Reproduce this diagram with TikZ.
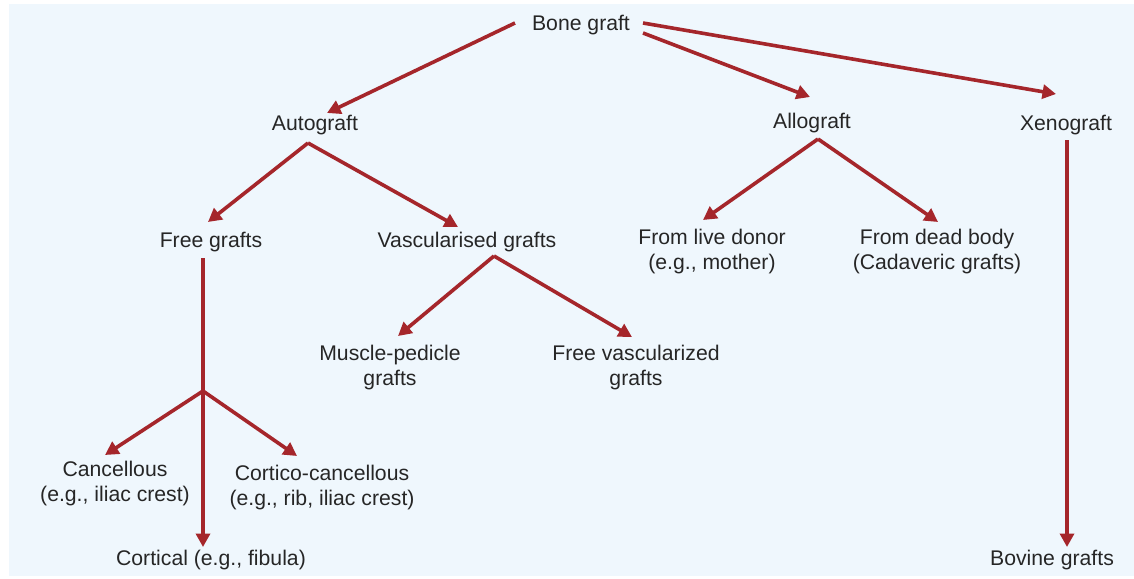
\documentclass[tikz,border=0pt]{standalone}
\usepackage{fontspec}
\setmainfont{Liberation Sans}
\usetikzlibrary{arrows.meta,calc}
\definecolor{bgblue}{HTML}{EFF7FD}
\definecolor{arrred}{HTML}{A5262B}
\definecolor{txtgray}{HTML}{262626}
\begin{document}
\begin{tikzpicture}[x=1pt,y=-1pt,
  lbl/.style={inner sep=0pt,anchor=base,text=txtgray,font=\fontsize{21.2}{25}\selectfont},
  lbl2/.style={inner sep=0pt,anchor=center,align=center,text=txtgray,font=\fontsize{21.2}{25}\selectfont},
  arr/.style={draw=arrred,line width=3.6pt,-{Triangle[length=13.5pt,width=14pt]}}]
\useasboundingbox (0,0) rectangle (1134,578);
\fill[bgblue] (9,4) rectangle (1134,576);
% nodes
\node[lbl] (bone) at (581,31) {Bone graft};
\node[lbl] (auto) at (315,130) {Autograft};
\node[lbl] (allo) at (812,128) {Allograft};
\node[lbl] (xeno) at (1066,130) {Xenograft};
\node[lbl] (free) at (211,247) {Free grafts};
\node[lbl] (vasc) at (467,247) {Vascularised grafts};
\node[lbl2] (live) at (712,252) {From live donor\\(e.g., mother)};
\node[lbl2] (dead) at (937,252) {From dead body\\(Cadaveric grafts)};
\node[lbl2] (muscle) at (390,368) {Muscle-pedicle\\grafts};
\node[lbl2] (fvasc) at (636,368) {Free vascularized\\grafts};
\node[lbl2] (canc) at (115,484) {Cancellous\\(e.g., iliac crest)};
\node[lbl2] (cortico) at (322,488) {Cortico-cancellous\\(e.g., rib, iliac crest)};
\node[lbl] (cortical) at (211,565) {Cortical (e.g., fibula)};
\node[lbl] (bovine) at (1052,565) {Bovine grafts};
% connectors
\draw[arr] ($(bone.base)+(-66,-8)$) -- ($(auto.base)+(12,-17)$);
\draw[arr] ($(bone.base)+(62,2)$) -- ($(allo.base)+(-2,-31)$);
\draw[arr] ($(bone.base)+(62,-8)$) -- ($(xeno.base)+(-10,-36)$);
\draw[arr] ($(xeno.base)+(1,10)$) -- ($(bovine.base)+(15,-18)$);
\draw[arr] ($(auto.base)+(-7,13)$) -- ($(free.base)+(-3,-25)$);
\draw[arr] ($(auto.base)+(-7,13)$) -- ($(vasc.base)+(-9,-20)$);
\draw[arr] ($(allo.base)+(6,11)$) -- ($(live.center)+(-9,-32)$);
\draw[arr] ($(allo.base)+(6,11)$) -- ($(dead.center)+(1,-30)$);
\draw[arr] ($(vasc.base)+(27,9)$) -- ($(muscle.center)+(8,-32)$);
\draw[arr] ($(vasc.base)+(27,9)$) -- ($(fvasc.center)+(-4,-31)$);
\draw[arr] ($(free.base)+(-8,11)$) -- ($(cortical.base)+(-8,-18)$);
\coordinate (split) at (203,391);
\draw[arr] (split) -- ($(canc.center)+(-10,-29)$);
\draw[arr] (split) -- ($(cortico.center)+(-25,-32)$);
\end{tikzpicture}
\end{document}
